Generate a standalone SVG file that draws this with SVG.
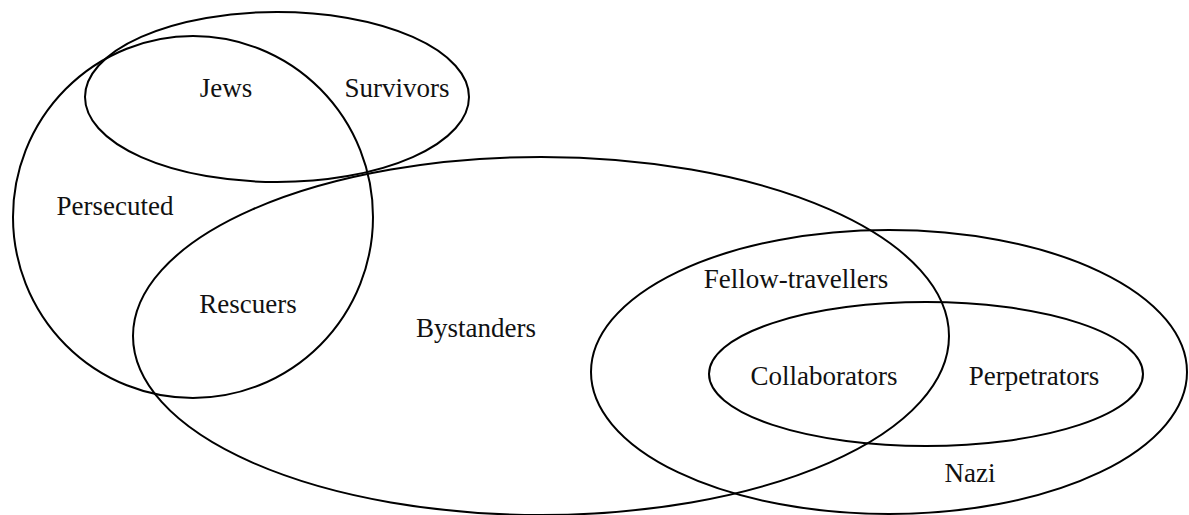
<svg xmlns="http://www.w3.org/2000/svg" width="1189" height="515" viewBox="0 0 1189 515">
<style>
.set{fill:none;stroke:#000;stroke-width:2}
.lbl{font-family:"Liberation Serif","Times New Roman",serif;font-size:27px;fill:#111;text-anchor:middle}
</style>
<rect width="1189" height="515" fill="#fff"/>
<g id="connectors"/>
<g id="persecuted">
<ellipse class="set" cx="193" cy="217" rx="180" ry="181"/>
<text class="lbl" x="115" y="215">Persecuted</text>
</g>
<g id="jews">
<ellipse class="set" cx="277" cy="97" rx="192" ry="85"/>
<text class="lbl" x="226" y="97">Jews</text>
<text class="lbl" x="397" y="97">Survivors</text>
</g>
<g id="bystanders">
<ellipse class="set" cx="541" cy="336" rx="408" ry="179"/>
<text class="lbl" x="248" y="313">Rescuers</text>
<text class="lbl" x="476" y="337">Bystanders</text>
</g>
<g id="nazi">
<ellipse class="set" cx="889" cy="372" rx="298" ry="142"/>
<text class="lbl" x="796" y="288">Fellow-travellers</text>
<text class="lbl" x="970" y="482">Nazi</text>
</g>
<g id="perpetrators">
<ellipse class="set" cx="926" cy="374" rx="217" ry="72"/>
<text class="lbl" x="824" y="385">Collaborators</text>
<text class="lbl" x="1034" y="385">Perpetrators</text>
</g>
</svg>
